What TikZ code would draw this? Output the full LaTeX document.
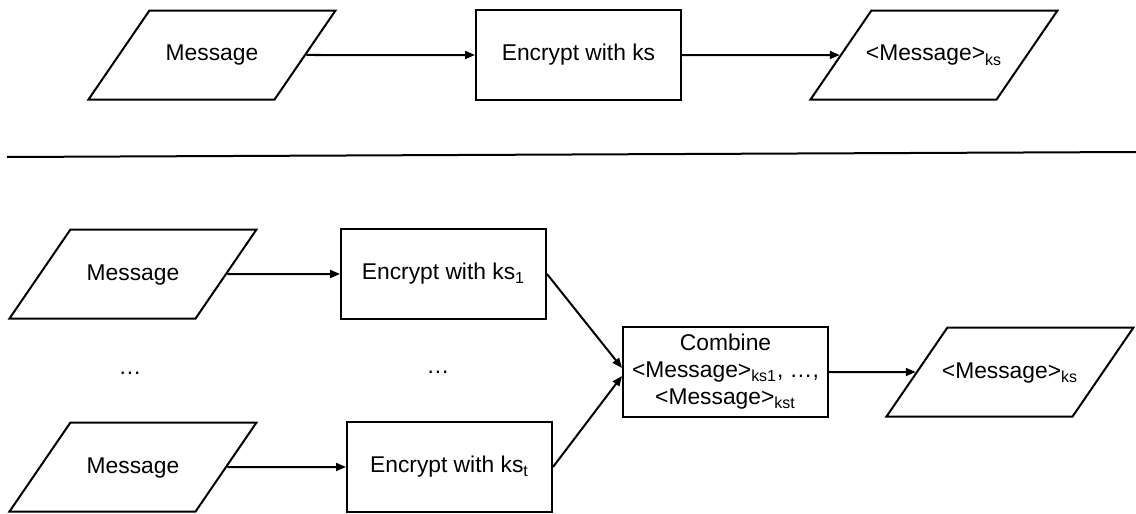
\documentclass[tikz,border=0pt]{standalone}
\usepackage{fontspec}
\setmainfont{Liberation Sans}
\usetikzlibrary{positioning, arrows.meta, shapes.geometric}
\newcommand{\ksub}[1]{\textsubscript{#1}}

\begin{document}
\begin{tikzpicture}[
        x=0.5pt, y=-0.5pt,
        every node/.style = {font=\fontsize{11.4}{13.5}\selectfont},
        io/.style    = {draw, trapezium, trapezium left angle=55.6, trapezium right angle=124.4, trapezium stretches body, text height=8.5pt, text depth=2.5pt, inner ysep=16.75pt, inner xsep=-5pt, minimum width=123.5pt, line width=1pt, align=center},
        proc/.style  = {draw, rectangle, minimum width=102.5pt, minimum height=45pt, line width=1pt, align=center},
        arrow/.style = {-{Triangle[length=5pt, width=4pt]}, line width=1pt},
    ]
        \useasboundingbox (0,0) rectangle (1136,514);

        % single key
        \node[io]   (msg) at (212,55)   {Message};
        \node[proc] (enc) at (578.5,55) {Encrypt with ks};
        \node[io]   (ct)  at (934,55)   {<Message>\ksub{ks}};

        \draw[arrow] (msg) -- (enc);
        \draw[arrow] (enc) -- (ct);

        % separator
        \coordinate (sepL) at (7,157);
        \coordinate (sepR) at (1136,152);
        \draw[line width=1pt] (sepL) -- (sepR);

        % shared key
        \node[io]   (msgA) at (133,274)   {Message};
        \node[proc] (encA) at (443.5,274) {Encrypt with ks\ksub{1}};
        \node       (dotsM) at (130,373)  {…};
        \node       (dotsE) at (438,372)  {…};
        \node[io]   (msgT) at (133,467)   {Message};
        \node[proc] (encT) at (449.5,467) {Encrypt with ks\ksub{t}};

        \node[proc] (comb) at (725.5,372) {Combine\\<Message>\ksub{ks1}, …,\\<Message>\ksub{kst}};
        \node[io]   (ctC)  at (1010,372)  {<Message>\ksub{ks}};

        \draw[arrow] (msgA) -- (encA);
        \draw[arrow] (msgT) -- (encT);
        \draw[arrow] (encA.east) -- ([yshift=2pt]comb.west);
        \draw[arrow] (encT.east) -- ([yshift=-2pt]comb.west);
        \draw[arrow] (comb) -- (ctC);
    \end{tikzpicture}
\end{document}
